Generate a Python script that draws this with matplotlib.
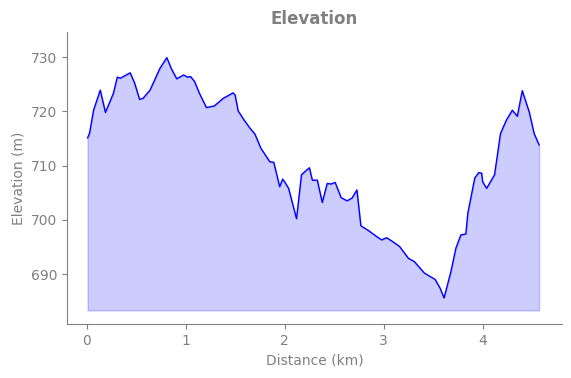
import matplotlib
matplotlib.use("Agg")
import matplotlib.pyplot as plt
import numpy as np

distance_km = [0.01, 0.03, 0.07, 0.138, 0.19, 0.27, 0.31, 0.34, 0.44, 0.485, 0.535, 0.57,
               0.64, 0.74, 0.81, 0.855, 0.91, 0.98, 1.02, 1.05, 1.09, 1.14, 1.21, 1.29,
               1.38, 1.48, 1.50, 1.53, 1.59, 1.65, 1.70, 1.76, 1.85, 1.89, 1.95, 1.98,
               2.00, 2.04, 2.12, 2.17, 2.20, 2.25, 2.28, 2.33, 2.38, 2.43, 2.47, 2.51,
               2.57, 2.63, 2.68, 2.73, 2.77, 2.84, 2.93, 2.98, 3.03, 3.09, 3.16, 3.25,
               3.31, 3.41, 3.52, 3.57, 3.61, 3.68, 3.73, 3.78, 3.83, 3.85, 3.92, 3.96,
               3.99, 4.00, 4.04, 4.12, 4.18, 4.24, 4.30, 4.35, 4.40, 4.47, 4.52, 4.57]
elevation_m = [715.1, 716.0, 720.2, 723.9, 719.8, 723.3, 726.3, 726.1, 727.1, 725.2, 722.2, 722.4,
               723.9, 727.9, 729.9, 727.9, 726.0, 726.7, 726.3, 726.4, 725.5, 723.3, 720.7, 721.0,
               722.4, 723.4, 723.0, 720.1, 718.4, 716.9, 715.8, 713.2, 710.7, 710.6, 706.1, 707.5,
               707.0, 705.8, 700.2, 708.3, 708.8, 709.6, 707.3, 707.3, 703.2, 706.7, 706.6, 706.9,
               704.1, 703.5, 704.0, 705.5, 698.9, 698.1, 696.9, 696.3, 696.7, 696.0, 695.1, 692.9,
               692.3, 690.2, 689.0, 687.4, 685.6, 690.5, 694.8, 697.2, 697.4, 701.2, 707.7, 708.7,
               708.6, 707.0, 705.8, 708.3, 715.9, 718.4, 720.2, 719.1, 723.8, 719.9, 715.9, 713.8]
fill_base = 683.3
y_ticks = [690, 700, 710, 720, 730]
x_ticks = [0, 1, 2, 3, 4]

fig = plt.figure(figsize=(5.71, 3.78), dpi=100)
ax = fig.add_axes([0.117, 0.143, 0.867, 0.772])
ax.fill_between(distance_km, elevation_m, fill_base, color="blue", alpha=0.2)
ax.plot(distance_km, elevation_m, color="blue", linewidth=1)
ax.set_xlim(-0.2, 4.8)
ax.set_ylim(680.8, 734.6)
ax.set_xticks(x_ticks)
ax.set_yticks(y_ticks)
ax.set_title("Elevation", color="gray", fontweight="bold", fontsize=12)
ax.set_xlabel("Distance (km)", color="gray")
ax.set_ylabel("Elevation (m)", color="gray")
for s in ["top", "right"]:
    ax.spines[s].set_visible(False)
for s in ["left", "bottom"]:
    ax.spines[s].set_color("gray")
ax.tick_params(colors="gray", labelcolor="gray")
fig.savefig("out.png", dpi=100)
